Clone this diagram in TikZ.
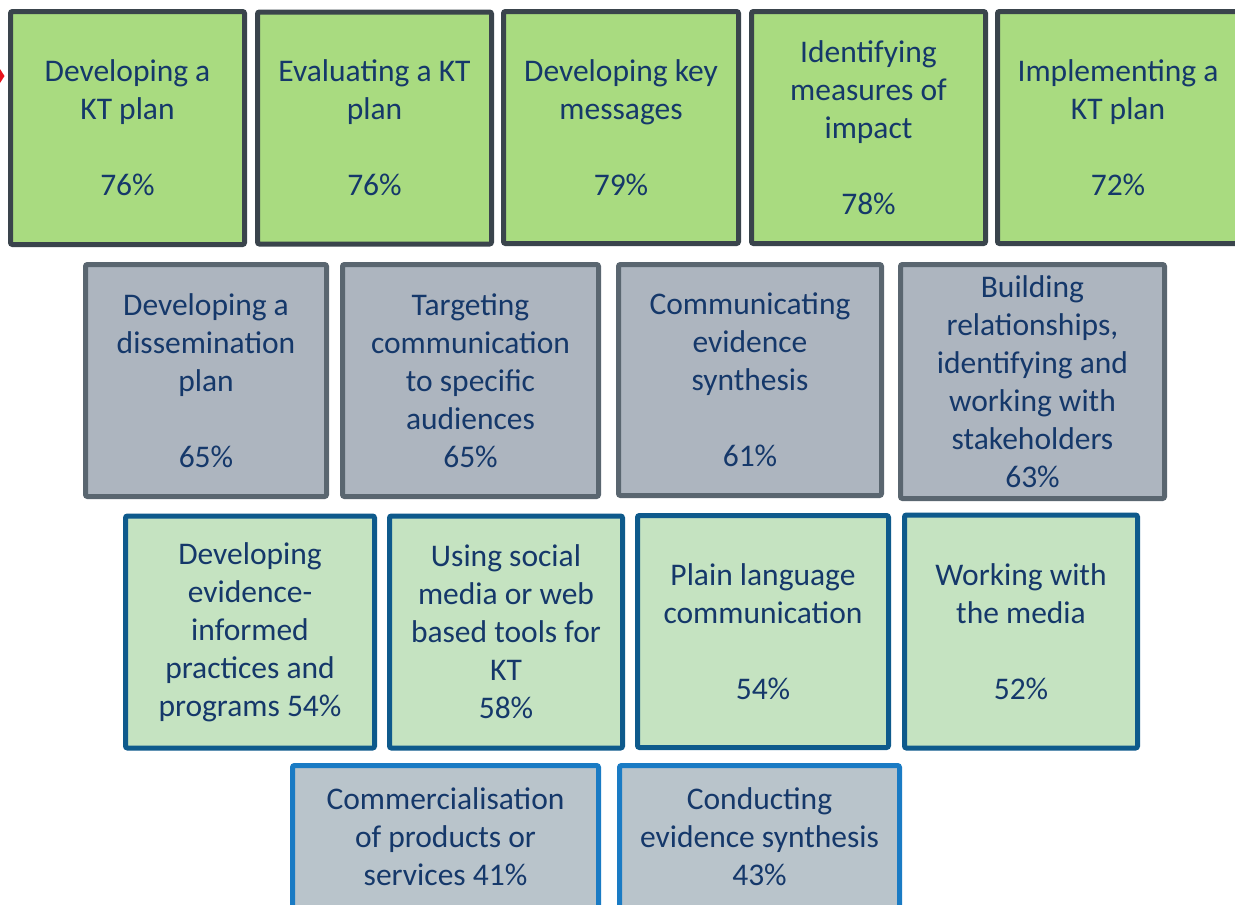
\documentclass[tikz,border=0pt]{standalone}
\usepackage{fontspec}
\setmainfont{Carlito}
\definecolor{txt}{HTML}{15386A}
\definecolor{gfill}{HTML}{A9DB80}
\definecolor{gdraw}{HTML}{3A444C}
\definecolor{sfill}{HTML}{ADB5BF}
\definecolor{sdraw}{HTML}{5A6670}
\definecolor{lfill}{HTML}{C5E3C1}
\definecolor{ldraw}{HTML}{0E5A8C}
\definecolor{bfill}{HTML}{B9C4CB}
\definecolor{bdraw}{HTML}{1A7BC4}
\definecolor{redtip}{HTML}{E8141C}
\tikzset{
  box/.style={rectangle, rounded corners=2pt, line width=5pt, align=center,
    text=txt, inner sep=0pt, font=\fontsize{31.5}{38}\selectfont},
  toprow/.style={box, fill=gfill, draw=gdraw},
  secrow/.style={box, fill=sfill, draw=sdraw},
  thirdrow/.style={box, fill=lfill, draw=ldraw},
  lastrow/.style={box, fill=bfill, draw=bdraw},
}
\begin{document}
\begin{tikzpicture}[x=1pt,y=-1pt]
\useasboundingbox (0,0) rectangle (1235,905);
\clip (0,0) rectangle (1235,905);
\fill[white] (0,0) rectangle (1235,905);
% red arrow tip fragment at left edge
\coordinate (tipa) at (0,69);
\coordinate (tipb) at (4.5,76);
\coordinate (tipc) at (0,83);
\fill[redtip] (tipa) -- (tipb) -- (tipc) -- cycle;
% row 1
\node[toprow, minimum width=234pt, minimum height=233pt] (b1) at (127.5,128) {Developing a\\KT plan\\\strut\\76\%};
\node[toprow, minimum width=234pt, minimum height=232pt] (b2) at (374.5,128) {Evaluating a KT\\plan\\\strut\\76\%};
\node[toprow, minimum width=235pt, minimum height=232pt] (b3) at (621,127.5) {Developing key\\messages\\\strut\\79\%};
\node[toprow, minimum width=234pt, minimum height=232pt] (b4) at (868.5,127.5) {Identifying\\measures of\\impact\\\strut\\78\%};
\node[toprow, minimum width=241pt, minimum height=232pt] (b5) at (1118,127.5) {Implementing a\\KT plan\\\strut\\72\%};
% row 2
\node[secrow, minimum width=241pt, minimum height=232pt] (c1) at (206,380.5) {Developing a\\dissemination\\plan\\\strut\\65\%};
\node[secrow, minimum width=256pt, minimum height=232pt] (c2) at (470.5,380.5) {Targeting\\communication\\to specific\\audiences\\65\%};
\node[secrow, minimum width=263pt, minimum height=231pt] (c3) at (750,380) {Communicating\\evidence\\synthesis\\\strut\\61\%};
\node[secrow, minimum width=264pt, minimum height=234pt] (c4) at (1032.5,381.5) {Building\\relationships,\\identifying and\\working with\\stakeholders\\63\%};
% row 3
\node[thirdrow, minimum width=249pt, minimum height=232pt] (d1) at (250,632) {Developing\\evidence-\\informed\\practices and\\programs 54\%};
\node[thirdrow, minimum width=233pt, minimum height=232pt] (d2) at (506,632) {Using social\\media or web\\based tools for\\KT\\58\%};
\node[thirdrow, minimum width=251pt, minimum height=232pt] (d3) at (763,631.5) {Plain language\\communication\\\strut\\54\%};
\node[thirdrow, minimum width=233pt, minimum height=233pt] (d4) at (1021,631.5) {Working with\\the media\\\strut\\52\%};
% row 4 (cut off at the bottom)
\node[lastrow, minimum width=306pt, minimum height=142pt] (e1) at (445.5,836.5) {Commercialisation\\of products or\\services 41\%};
\node[lastrow, minimum width=280pt, minimum height=142pt] (e2) at (759.5,836.5) {Conducting\\evidence synthesis\\43\%};
\end{tikzpicture}
\end{document}
